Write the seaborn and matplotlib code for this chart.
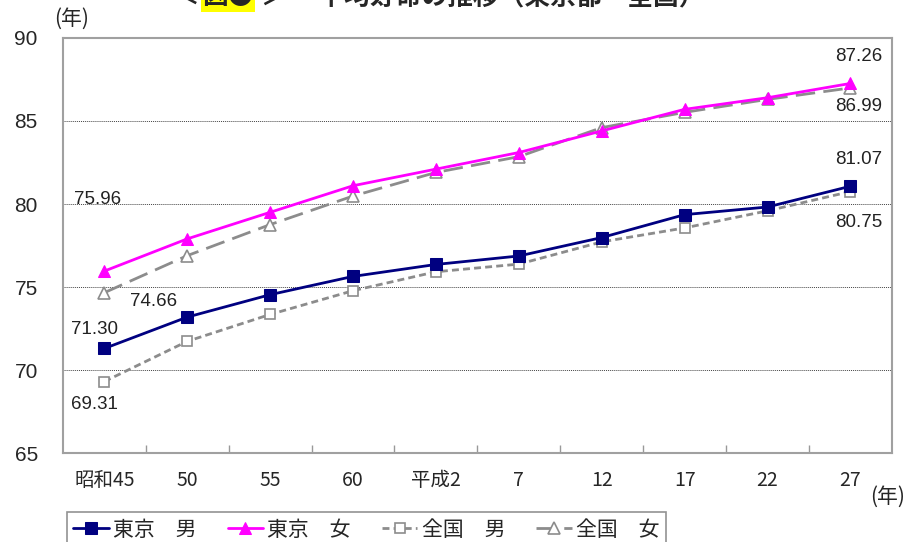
import pandas as pd
import matplotlib.pyplot as plt
import seaborn as sns

# データ（平均寿命の推移）
categories = ['昭和45', '50', '55', '60', '平成2', '7', '12', '17', '22', '27']
tokyo_male = [71.30, 73.19, 74.54, 75.64, 76.36, 76.87, 77.98, 79.36, 79.82, 81.07]
tokyo_female = [75.96, 77.90, 79.50, 81.10, 82.10, 83.10, 84.40, 85.70, 86.40, 87.26]
japan_male = [69.31, 71.73, 73.35, 74.78, 75.92, 76.38, 77.72, 78.56, 79.59, 80.75]
japan_female = [74.66, 76.89, 78.76, 80.48, 81.90, 82.85, 84.60, 85.52, 86.30, 86.99]

df = pd.DataFrame({
    'pos': range(len(categories)),
    '東京　男': tokyo_male,
    '東京　女': tokyo_female,
    '全国　男': japan_male,
    '全国　女': japan_female,
})

sns.set_theme(style="white")
plt.rcParams['font.family'] = ['Noto Sans CJK JP', 'DejaVu Sans']

fig = plt.figure(figsize=(9.11, 5.42), dpi=100)
ax = fig.add_axes([0.069, 0.164, 0.910, 0.766])

# 全国（背面）
sns.lineplot(data=df, x='pos', y='全国　男', ax=ax, color='#8c8c8c', lw=2,
             linestyle=(0, (2.5, 1.5)), marker='s', markersize=7,
             markerfacecolor='white', markeredgecolor='#8c8c8c', markeredgewidth=1.2,
             label='全国　男')
sns.lineplot(data=df, x='pos', y='全国　女', ax=ax, color='#8c8c8c', lw=2,
             linestyle=(0, (7, 3)), marker='^', markersize=8,
             markerfacecolor='white', markeredgecolor='#8c8c8c', markeredgewidth=1.2,
             label='全国　女')
# 東京
sns.lineplot(data=df, x='pos', y='東京　男', ax=ax, color='#000080', lw=2,
             marker='s', markersize=8, markeredgecolor='#000080', label='東京　男')
sns.lineplot(data=df, x='pos', y='東京　女', ax=ax, color='#ff00ff', lw=2,
             marker='^', markersize=9, markeredgecolor='#ff00ff', label='東京　女')

ax.set_xlim(-0.5, len(categories) - 0.5)
ax.set_ylim(65, 90)
ax.set_yticks([65, 70, 75, 80, 85, 90])
ax.set_xticks(range(len(categories)))
ax.set_xticklabels(categories, fontsize=14)
ax.set_xticks([i + 0.5 for i in range(len(categories) - 1)], minor=True)
ax.tick_params(axis='x', which='major', length=0, pad=12)
ax.tick_params(axis='x', which='minor', direction='in', length=6, color='#999999', bottom=True)
ax.tick_params(axis='y', length=0, labelsize=15, pad=18)
for t in ax.get_yticklabels():
    t.set_family('Liberation Sans')
ax.set_xlabel('')
ax.set_ylabel('')
for v in [70, 75, 80, 85]:
    ax.axhline(v, color='#444444', lw=0.7, linestyle=(0, (1, 1)), zorder=0)
for s in ax.spines.values():
    s.set_color('#a0a0a0')
    s.set_linewidth(1.5)

# 数値ラベル
lab = dict(fontsize=13.5, family='Liberation Sans', color='#222222', va='center', ha='center')
ax.text(-0.08, tokyo_female[0] + 4.3, f'{tokyo_female[0]:.2f}', **lab)
ax.text(0.6, japan_female[0] - 0.55, f'{japan_female[0]:.2f}', **lab)
ax.text(-0.12, tokyo_male[0] + 1.17, f'{tokyo_male[0]:.2f}', **lab)
ax.text(-0.12, japan_male[0] - 1.36, f'{japan_male[0]:.2f}', **lab)
ax.text(9.1, tokyo_female[-1] + 1.6, f'{tokyo_female[-1]:.2f}', **lab)
ax.text(9.1, japan_female[-1] - 1.1, f'{japan_female[-1]:.2f}', **lab)
ax.text(9.1, tokyo_male[-1] + 1.6, f'{tokyo_male[-1]:.2f}', **lab)
ax.text(9.1, japan_male[-1] - 1.85, f'{japan_male[-1]:.2f}', **lab)

# 単位
fig.text(0.059, 0.966, '(年)', fontsize=15, ha='left', va='center')
fig.text(0.955, 0.083, '(年)', fontsize=15, ha='left', va='center')

# タイトル（上端で切れている）
tkw = dict(fontsize=18.5, fontweight='bold', va='baseline')
fig.text(0.190, 0.992, '＜', ha='left', **tkw)
fig.text(0.222, 0.992, '図●', ha='left',
         bbox=dict(facecolor='yellow', edgecolor='none', pad=1), **tkw)
fig.text(0.287, 0.992, '＞　 平均寿命の推移（東京都・全国）', ha='left', **tkw)

# 凡例
handles, labels = ax.get_legend_handles_labels()
order = ['東京　男', '東京　女', '全国　男', '全国　女']
hmap = dict(zip(labels, handles))
ax.legend([hmap[k] for k in order], order, loc='upper left',
          bbox_to_anchor=(0.005, -0.143), ncol=4, frameon=True, fancybox=False,
          edgecolor='#777777', fontsize=15, handlelength=1.7, handletextpad=0.2,
          columnspacing=1.5, borderpad=0.3, borderaxespad=0)
ax.get_legend()._legend_box.sep = 0
ax.get_legend().get_frame().set_linewidth(1.2)

fig.savefig('out.png', dpi=100)
